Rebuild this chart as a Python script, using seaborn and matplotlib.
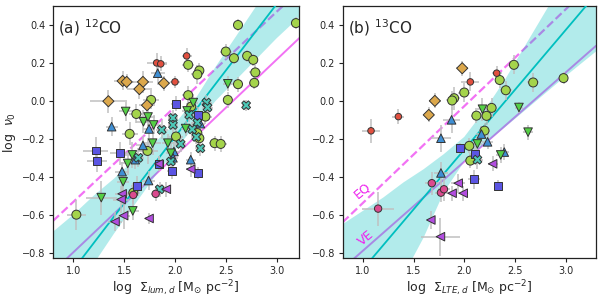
import numpy as np
import pandas as pd
import matplotlib
matplotlib.use('Agg')
import matplotlib.pyplot as plt
import seaborn as sns

# puntos: (x, y, xerr, yerr) por grupo y panel
a_circ = [(2.62, 0.40, 0.05, 0.03), (3.19, 0.41, 0.05, 0.03), (2.50, 0.26, 0.06, 0.04),
          (2.58, 0.225, 0.05, 0.03), (2.71, 0.237, 0.05, 0.03), (2.77, 0.216, 0.05, 0.03),
          (2.79, 0.15, 0.06, 0.04), (2.78, 0.095, 0.05, 0.03), (2.62, 0.088, 0.05, 0.04),
          (2.52, 0.005, 0.05, 0.04), (2.13, 0.19, 0.06, 0.04), (2.24, 0.16, 0.05, 0.04),
          (2.22, 0.139, 0.06, 0.05), (1.765, 0.005, 0.08, 0.05), (2.13, 0.03, 0.06, 0.05),
          (1.62, -0.069, 0.07, 0.05), (2.16, -0.03, 0.06, 0.05), (2.30, -0.083, 0.06, 0.04),
          (1.554, -0.174, 0.08, 0.06), (2.01, -0.188, 0.07, 0.05), (2.39, -0.223, 0.06, 0.04),
          (2.45, -0.227, 0.06, 0.04), (1.73, -0.264, 0.10, 0.07), (1.59, -0.484, 0.07, 0.05),
          (1.03, -0.60, 0.09, 0.08), (2.22, -0.17, 0.05, 0.04), (2.24, -0.197, 0.05, 0.04)]
a_diam = [(1.485, 0.105, 0.08, 0.05), (1.525, 0.10, 0.07, 0.04), (1.685, 0.10, 0.10, 0.06),
          (1.65, 0.062, 0.12, 0.05), (1.89, 0.093, 0.06, 0.04), (1.345, -0.002, 0.18, 0.06),
          (1.725, -0.023, 0.08, 0.05)]
a_red = [(1.82, 0.20, 0.10, 0.05), (1.86, 0.195, 0.06, 0.04), (2.0, 0.10, 0.05, 0.03),
         (2.115, 0.237, 0.05, 0.04)]
a_tup = [(1.83, 0.146, 0.07, 0.06), (1.377, -0.136, 0.06, 0.05), (1.745, -0.148, 0.06, 0.05),
         (1.685, -0.235, 0.07, 0.05), (1.61, -0.31, 0.06, 0.05), (1.48, -0.373, 0.07, 0.05),
         (1.74, -0.42, 0.06, 0.05), (1.99, -0.267, 0.06, 0.05), (1.98, -0.30, 0.05, 0.04),
         (2.155, -0.31, 0.05, 0.04), (2.25, -0.12, 0.05, 0.04)]
a_tdn = [(2.52, 0.09, 0.05, 0.04), (1.515, -0.056, 0.07, 0.05), (1.69, -0.11, 0.07, 0.06),
         (1.735, -0.085, 0.07, 0.05), (1.79, -0.127, 0.07, 0.05), (2.18, -0.009, 0.05, 0.04),
         (1.78, -0.223, 0.08, 0.06), (1.93, -0.223, 0.06, 0.05), (1.58, -0.285, 0.10, 0.07),
         (1.535, -0.33, 0.08, 0.06), (1.49, -0.426, 0.06, 0.06), (1.275, -0.51, 0.15, 0.09),
         (1.585, -0.58, 0.06, 0.05), (1.96, -0.276, 0.05, 0.05), (2.12, -0.053, 0.05, 0.04),
         (2.105, -0.146, 0.05, 0.04)]
a_sq = [(1.22, -0.262, 0.12, 0.07), (1.23, -0.315, 0.10, 0.06), (1.46, -0.276, 0.10, 0.06),
        (1.63, -0.447, 0.06, 0.05), (2.01, -0.016, 0.05, 0.04), (2.23, -0.074, 0.05, 0.04),
        (1.84, -0.332, 0.05, 0.04), (1.97, -0.37, 0.05, 0.04), (2.23, -0.38, 0.04, 0.03)]
a_x = [(2.70, -0.023, 0.04, 0.03), (1.98, -0.09, 0.05, 0.04), (1.98, -0.127, 0.05, 0.04),
       (2.14, -0.074, 0.05, 0.04), (2.31, -0.009, 0.05, 0.04), (2.32, -0.035, 0.05, 0.04),
       (2.21, -0.19, 0.05, 0.04), (2.056, -0.227, 0.05, 0.04), (1.64, -0.30, 0.06, 0.05),
       (1.85, -0.466, 0.05, 0.04), (1.96, -0.32, 0.05, 0.04), (2.25, -0.25, 0.05, 0.04),
       (2.22, -0.115, 0.05, 0.04), (2.17, -0.15, 0.05, 0.04), (1.87, -0.153, 0.06, 0.05)]
a_pink = [(1.59, -0.496, 0.06, 0.05), (1.81, -0.49, 0.05, 0.04)]
a_tlf = [(1.48, -0.49, 0.07, 0.06), (1.47, -0.52, 0.08, 0.07), (1.915, -0.466, 0.05, 0.04),
         (1.495, -0.605, 0.06, 0.07), (1.41, -0.637, 0.07, 0.05), (1.745, -0.62, 0.04, 0.03),
         (1.84, -0.332, 0.05, 0.04), (2.155, -0.36, 0.05, 0.04)]

b_circ = [(2.35, 0.11, 0.05, 0.04), (2.49, 0.19, 0.06, 0.05), (2.41, 0.056, 0.06, 0.05),
          (2.68, 0.097, 0.06, 0.05), (2.98, 0.12, 0.04, 0.03), (1.90, 0.014, 0.06, 0.06),
          (1.88, 0.002, 0.06, 0.05), (2.00, 0.044, 0.06, 0.05), (2.12, -0.078, 0.05, 0.04),
          (2.22, -0.079, 0.05, 0.05), (2.27, -0.037, 0.05, 0.05), (2.20, -0.157, 0.05, 0.04),
          (2.05, -0.237, 0.05, 0.04), (2.06, -0.315, 0.05, 0.04)]
b_diam = [(1.98, 0.172, 0.06, 0.04), (1.71, 0.0, 0.06, 0.04), (1.65, -0.074, 0.05, 0.04)]
b_red = [(1.08, -0.158, 0.09, 0.065), (1.35, -0.083, 0.06, 0.04), (2.06, 0.10, 0.09, 0.05),
         (2.32, 0.146, 0.05, 0.04)]
b_tup = [(1.875, -0.10, 0.08, 0.07), (1.77, -0.197, 0.10, 0.07), (2.17, -0.175, 0.05, 0.04),
         (2.23, -0.216, 0.05, 0.04), (2.395, -0.27, 0.05, 0.04), (1.77, -0.38, 0.07, 0.06)]
b_tdn = [(2.18, -0.044, 0.05, 0.06), (2.54, -0.035, 0.04, 0.03), (2.63, -0.165, 0.05, 0.04),
         (2.13, -0.227, 0.05, 0.04), (2.36, -0.285, 0.05, 0.04)]
b_sq = [(1.96, -0.25, 0.04, 0.03), (2.11, -0.28, 0.05, 0.04), (2.10, -0.413, 0.06, 0.05),
        (2.33, -0.447, 0.04, 0.03)]
b_x = [(2.13, -0.31, 0.06, 0.05)]
b_pink = [(1.68, -0.434, 0.07, 0.06), (1.77, -0.484, 0.06, 0.05), (1.80, -0.466, 0.06, 0.06),
          (1.15, -0.568, 0.16, 0.09)]
b_tlf = [(1.94, -0.434, 0.07, 0.05), (1.88, -0.487, 0.05, 0.04), (1.99, -0.487, 0.05, 0.04),
         (2.28, -0.332, 0.05, 0.04), (1.67, -0.628, 0.04, 0.05), (1.765, -0.716, 0.19, 0.10)]

# rectas EQ / VE (extremos) y ajuste con banda
line_x = [0.8, 3.3]
a_eq_y = [-0.633, 0.62]
a_ve_y = [-0.90, 0.37]
b_eq_y = [-0.64, 0.635]
b_ve_y = [-0.884, 0.29]

band_x = [0.8, 1.0, 1.2, 1.4, 1.6, 1.8, 2.0, 2.2, 2.4, 2.6, 2.8, 3.0, 3.3]
a_fit = [-1.03, -0.89, -0.75, -0.61, -0.47, -0.33, -0.19, -0.05, 0.09, 0.23, 0.37, 0.51, 0.72]
a_up = [-0.69, -0.60, -0.50, -0.41, -0.31, -0.22, -0.12, 0.01, 0.18, 0.34, 0.50, 0.67, 0.92]
a_lo = [-1.25, -1.05, -0.86, -0.70, -0.55, -0.40, -0.26, -0.13, 0.00, 0.11, 0.22, 0.33, 0.48]
b_fit = [-1.013, -0.887, -0.761, -0.635, -0.509, -0.383, -0.257, -0.131, -0.005, 0.121, 0.247, 0.373, 0.562]
b_up = [-0.65, -0.58, -0.51, -0.43, -0.36, -0.28, -0.19, -0.05, 0.11, 0.29, 0.47, 0.65, 0.92]
b_lo = [-1.60, -1.35, -1.13, -0.92, -0.72, -0.48, -0.32, -0.23, -0.14, -0.05, 0.04, 0.13, 0.26]

grupos = ['circ', 'diam', 'red', 'tup', 'tdn', 'sq', 'x', 'pink', 'tlf']
colores = {'circ': '#a4d44b', 'diam': '#dca84c', 'red': '#e2503f', 'tup': '#3f8fd4',
           'tdn': '#55d045', 'sq': '#5b55e3', 'x': '#4dc9b8', 'pink': '#db4b8f', 'tlf': '#b24de0'}
marcas = {'circ': 'o', 'diam': 'D', 'red': 'o', 'tup': '^', 'tdn': 'v', 'sq': 's',
          'x': 'X', 'pink': 'o', 'tlf': '<'}
tamanos = {'circ': 42, 'diam': 32, 'red': 22, 'tup': 38, 'tdn': 38, 'sq': 32,
           'x': 40, 'pink': 28, 'tlf': 38}


def tabla(listas):
    filas = []
    for g, pts in zip(grupos, listas):
        for x, y, xe, ye in pts:
            filas.append({'x': x, 'y': y, 'xe': xe, 'ye': ye, 'grp': g})
    return pd.DataFrame(filas)


df_a = tabla([a_circ, a_diam, a_red, a_tup, a_tdn, a_sq, a_x, a_pink, a_tlf])
df_b = tabla([b_circ, b_diam, b_red, b_tup, b_tdn, b_sq, b_x, b_pink, b_tlf])

sns.set_style('ticks')
plt.rcParams['font.family'] = ['DejaVu Sans']

fig = plt.figure(figsize=(5.98, 2.98), dpi=100)
ax1 = fig.add_axes([0.0886, 0.1332, 0.4114, 0.8466])
ax2 = fig.add_axes([0.5730, 0.1332, 0.4236, 0.8466])

mag = '#f272f4'
paneles = [(ax1, df_a, a_eq_y, a_ve_y, a_fit, a_up, a_lo, '(a) $^{12}$CO',
            r'log  $\Sigma_{lum,d}$ [M$_{\odot}$ pc$^{-2}$]', 3.22),
           (ax2, df_b, b_eq_y, b_ve_y, b_fit, b_up, b_lo, '(b) $^{13}$CO',
            r'log  $\Sigma_{LTE,d}$ [M$_{\odot}$ pc$^{-2}$]', 3.3)]

for ax, df, eq, ve, fit, up, lo, titulo, xlab, xmax in paneles:
    ax.plot(line_x, eq, ls='--', color=mag, lw=1.6, zorder=1)
    ax.plot(line_x, ve, ls='-', color=mag, lw=1.4, zorder=1)
    ax.fill_between(band_x, lo, up, color='c', alpha=0.3, lw=0, zorder=2)
    ax.plot(band_x, fit, color='c', lw=1.3, zorder=3)
    ax.errorbar(df['x'], df['y'], xerr=df['xe'], yerr=df['ye'], fmt='none',
                ecolor='#c0c0c0', elinewidth=1.1, capsize=0, zorder=4)
    sns.scatterplot(data=df, x='x', y='y', hue='grp', style='grp', size='grp',
                    palette=colores, markers=marcas, sizes=tamanos,
                    edgecolor='#333333', linewidth=0.7, legend=False, ax=ax, zorder=5)
    ax.set_xlim(0.8, xmax)
    ax.set_ylim(-0.83, 0.5)
    ax.set_xticks([1.0, 1.5, 2.0, 2.5, 3.0])
    ax.set_yticks([-0.8, -0.6, -0.4, -0.2, 0.0, 0.2, 0.4])
    ax.tick_params(labelsize=7, length=3, width=0.8, color='#222222', pad=2.5)
    for s in ax.spines.values():
        s.set_color('#222222')
        s.set_linewidth(0.9)
    ax.set_xlabel(xlab, fontsize=9, labelpad=1.5)
    ax.set_ylabel('')
    ax.text(0.02, 0.955, titulo, transform=ax.transAxes, fontsize=11, va='top', ha='left')

ax1.set_ylabel(r'log  $\nu_0$', fontsize=9, labelpad=3)
ax2.text(0.99, -0.47, 'EQ', color='#ee22ee', fontsize=9, rotation=40, ha='center', va='center')
ax2.text(1.03, -0.725, 'VE', color='#ee22ee', fontsize=9, rotation=40, ha='center', va='center')

plt.savefig('out.png', dpi=100)
